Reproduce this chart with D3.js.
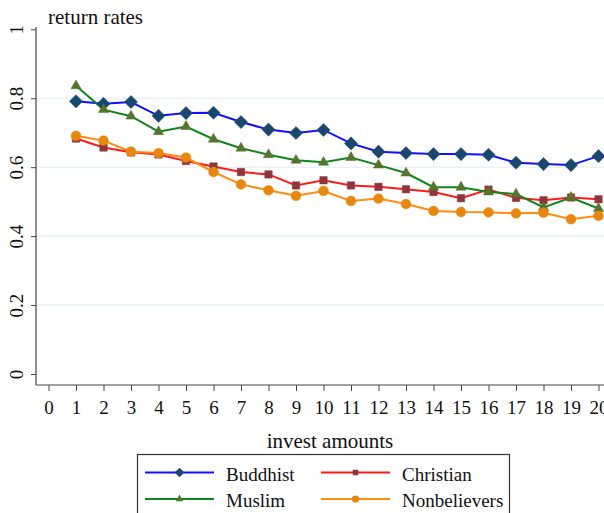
<!DOCTYPE html>
<html lang="en">
<head>
<meta charset="UTF-8">
<title>return rates</title>
<script src="https://cdn.jsdelivr.net/npm/d3@7/dist/d3.min.js"></script>
<style>
    body { margin: 0; background: #fff; }
    svg { display: block; }
    .line { fill: none; stroke-width: 2; }
</style>
</head>
<body>
<svg width="604" height="513"></svg>
<script>
    // data
    var amounts = d3.range(1, 21);
    var xTicks = d3.range(0, 21);
    var yTicks = [0, 0.2, 0.4, 0.6, 0.8, 1];
    var gridTicks = [0.2, 0.4, 0.6, 0.8];

    var buddhist = [0.791, 0.784, 0.789, 0.749, 0.757, 0.758, 0.731, 0.709, 0.699, 0.708,
                    0.669, 0.645, 0.641, 0.638, 0.638, 0.636, 0.613, 0.609, 0.606, 0.632];
    var christian = [0.683, 0.657, 0.643, 0.637, 0.618, 0.602, 0.586, 0.579, 0.547, 0.562,
                     0.547, 0.543, 0.536, 0.528, 0.510, 0.535, 0.511, 0.504, 0.512, 0.507];
    var muslim = [0.836, 0.767, 0.748, 0.703, 0.718, 0.681, 0.655, 0.636, 0.620, 0.614,
                  0.628, 0.606, 0.583, 0.542, 0.542, 0.528, 0.522, 0.483, 0.512, 0.480];
    var nonbelievers = [0.691, 0.677, 0.645, 0.641, 0.628, 0.586, 0.550, 0.533, 0.517, 0.531,
                        0.502, 0.509, 0.493, 0.473, 0.470, 0.469, 0.466, 0.468, 0.449, 0.459];

    var series = [
        { name: 'Buddhist', values: buddhist, line: '#1010ff', marker: '#1a476f', symbol: d3.symbolDiamond2, size: 110 },
        { name: 'Christian', values: christian, line: '#ff1a1a', marker: '#90353b', symbol: d3.symbolSquare2, size: 70 },
        { name: 'Muslim', values: muslim, line: '#10861a', marker: '#55752f', symbol: d3.symbolTriangle2, size: 75 },
        { name: 'Nonbelievers', values: nonbelievers, line: '#ff8c10', marker: '#e8870e', symbol: d3.symbolCircle, size: 75 }
    ];

    var serif = 'Liberation Serif';

    var svg = d3.select('svg'),
        xScale = d3.scaleLinear().domain([0, 20]).range([48.5, 598.5]),
        yScale = d3.scaleLinear().domain([0, 1]).range([374, 29.3]),
        axisX = 385,
        axisY = 36;

    // gridlines
    svg.append('g').selectAll('line')
        .data(gridTicks)
        .enter().append('line')
        .attr('x1', axisY).attr('x2', 604)
        .attr('y1', function(d) { return yScale(d); })
        .attr('y2', function(d) { return yScale(d); })
        .attr('stroke', '#eaf1f3')
        .attr('stroke-width', 1.6);

    // y axis
    var yAxisG = svg.append('g')
        .attr('transform', 'translate(' + [axisY, 0] + ')')
        .call(d3.axisLeft(yScale).tickValues(yTicks).tickSize(5).tickSizeOuter(0).tickFormat(d3.format('')))
        .attr('font-family', serif);
    yAxisG.select('.domain').remove();
    yAxisG.append('line')
        .attr('y1', axisX).attr('y2', 27)
        .attr('stroke', '#444').attr('stroke-width', 1.2);
    yAxisG.selectAll('.tick line').attr('stroke', '#444');
    yAxisG.selectAll('.tick text')
        .attr('font-family', serif)
        .attr('font-size', 19)
        .attr('fill', '#111')
        .attr('text-anchor', 'middle')
        .attr('x', 0).attr('dy', 0)
        .attr('transform', 'translate(-13,0) rotate(-90)');

    // x axis
    var xAxisG = svg.append('g')
        .attr('transform', 'translate(' + [0, axisX] + ')')
        .call(d3.axisBottom(xScale).tickValues(xTicks).tickSize(6).tickSizeOuter(0).tickFormat(d3.format('d')))
        .attr('font-family', serif);
    xAxisG.select('.domain').remove();
    xAxisG.append('line')
        .attr('x1', axisY).attr('x2', 604)
        .attr('stroke', '#444').attr('stroke-width', 1.2);
    xAxisG.selectAll('.tick line').attr('stroke', '#444');
    xAxisG.selectAll('.tick text')
        .attr('font-family', serif)
        .attr('font-size', 19)
        .attr('fill', '#111')
        .attr('y', 29).attr('dy', 0);

    // titles
    svg.append('text')
        .attr('x', 48).attr('y', 24)
        .attr('font-family', serif)
        .attr('font-size', 21).attr('fill', '#111')
        .text('return rates');
    svg.append('text')
        .attr('x', 330).attr('y', 448)
        .attr('text-anchor', 'middle')
        .attr('font-family', serif)
        .attr('font-size', 21).attr('fill', '#111')
        .text('invest amounts');

    // lines and markers
    var lineG = d3.line()
        .x(function(d, i) { return xScale(amounts[i]); })
        .y(function(d) { return yScale(d); });

    series.forEach(function(s) {
        svg.append('path')
            .datum(s.values)
            .attr('class', 'line')
            .attr('stroke', s.line)
            .attr('d', lineG);
    });
    series.forEach(function(s) {
        svg.append('g').selectAll('path')
            .data(s.values)
            .enter().append('path')
            .attr('d', d3.symbol().type(s.symbol).size(s.size))
            .attr('fill', s.marker)
            .attr('stroke', s.marker)
            .attr('stroke-opacity', 0.5)
            .attr('stroke-width', 1)
            .attr('transform', function(d, i) {
                return 'translate(' + [xScale(amounts[i]), yScale(d)] + ')';
            });
    });

    // legend
    var legend = svg.append('g');
    legend.append('rect')
        .attr('x', 137.5).attr('y', 454.5)
        .attr('width', 372).attr('height', 70)
        .attr('fill', '#fff').attr('stroke', '#333').attr('stroke-width', 1.2);

    var legendPos = [[145, 472.5], [321, 472.5], [145, 499], [321, 499]];
    series.forEach(function(s, i) {
        var p = legendPos[i];
        var item = legend.append('g').attr('transform', 'translate(' + p + ')');
        item.append('line')
            .attr('x1', 0).attr('x2', 69)
            .attr('stroke', s.line).attr('stroke-width', 2);
        item.append('path')
            .attr('d', d3.symbol().type(s.symbol).size(s.size * 0.55))
            .attr('fill', s.marker)
            .attr('transform', 'translate(34.5,0)');
        item.append('text')
            .attr('x', 81).attr('y', 8)
            .attr('font-family', serif)
            .attr('font-size', 19).attr('fill', '#111')
            .text(s.name);
    });
</script>
</body>
</html>
